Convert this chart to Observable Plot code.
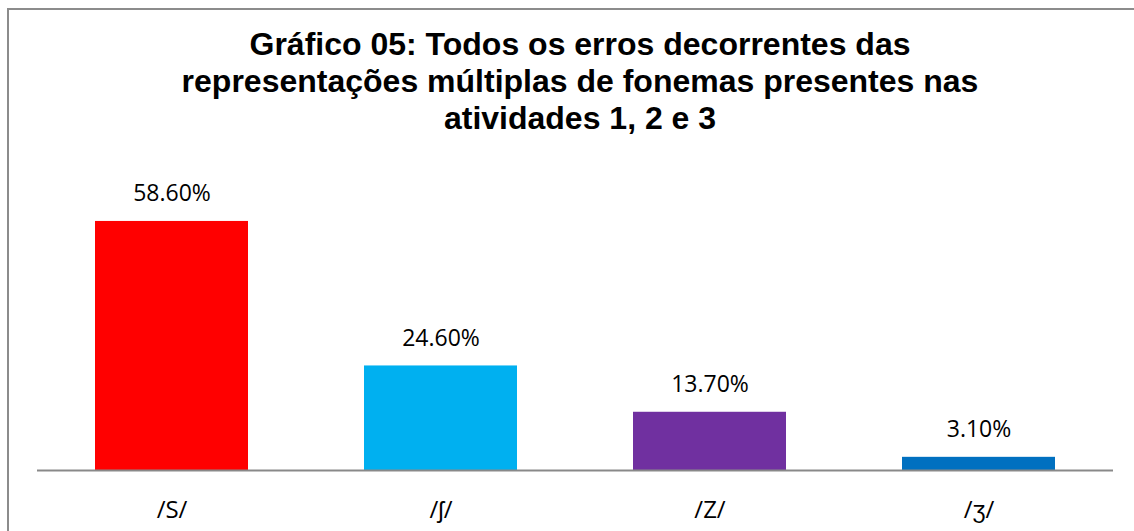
<!DOCTYPE html>
<html>
<head>
<meta charset="utf-8">
<script src="https://cdn.jsdelivr.net/npm/d3@7"></script>
<script src="https://cdn.jsdelivr.net/npm/@observablehq/plot@0.6"></script>
<style>
  html, body { margin: 0; padding: 0; background: #fff; }
  #wrap { position: relative; width: 1134px; height: 531px; overflow: hidden; background: #fff; }
  #frame { position: absolute; left: 7px; top: 8px; width: 1200px; height: 600px; border-left: 2px solid #8c8c8c; border-top: 2px solid #8c8c8c; box-sizing: border-box; }
  #title { position: absolute; left: 26px; right: 0; top: 26px; text-align: center; font-family: "Liberation Sans", Arial, sans-serif; font-weight: bold; font-size: 32px; line-height: 37px; color: #000; }
  #chart { position: absolute; left: 0; top: 150px; }
</style>
</head>
<body>
<div id="wrap">
  <div id="frame"></div>
  <div id="title">Gráfico 05: Todos os erros decorrentes das<br>representações múltiplas de fonemas presentes nas<br>atividades 1, 2 e 3</div>
  <div id="chart"></div>
</div>
<script>
const categories = ["/S/", "/ʃ/", "/Z/", "/ʒ/"];
const values = [58.6, 24.6, 13.7, 3.1];
const labels = ["58.60%", "24.60%", "13.70%", "3.10%"];
const colors = ["#FF0000", "#00B0F0", "#7030A0", "#0070C0"];

const data = categories.map((c, i) => ({cat: c, value: values[i], label: labels[i]}));

const chart = Plot.plot({
  width: 1134,
  height: 381,
  marginLeft: 37,
  marginRight: 21,
  marginTop: 65,
  marginBottom: 61,
  style: {fontFamily: "'Open Sans', sans-serif", background: "transparent"},
  x: {domain: categories, paddingInner: 0.43, paddingOuter: 0.215, label: null},
  y: {domain: [0, 60], axis: null},
  color: {domain: categories, range: colors},
  marks: [
    Plot.barY(data, {x: "cat", y: "value", fill: "cat"}),
    Plot.ruleY([0], {stroke: "#898989", strokeWidth: 2}),
    Plot.text(data, {x: "cat", y: "value", text: "label", dy: -20, lineAnchor: "bottom", fontSize: 23, fill: "#000"}),
    Plot.axisX({tickSize: 0, tickPadding: 30, fontSize: 24, color: "#000", label: null})
  ]
});
document.getElementById("chart").appendChild(chart);
</script>
</body>
</html>
